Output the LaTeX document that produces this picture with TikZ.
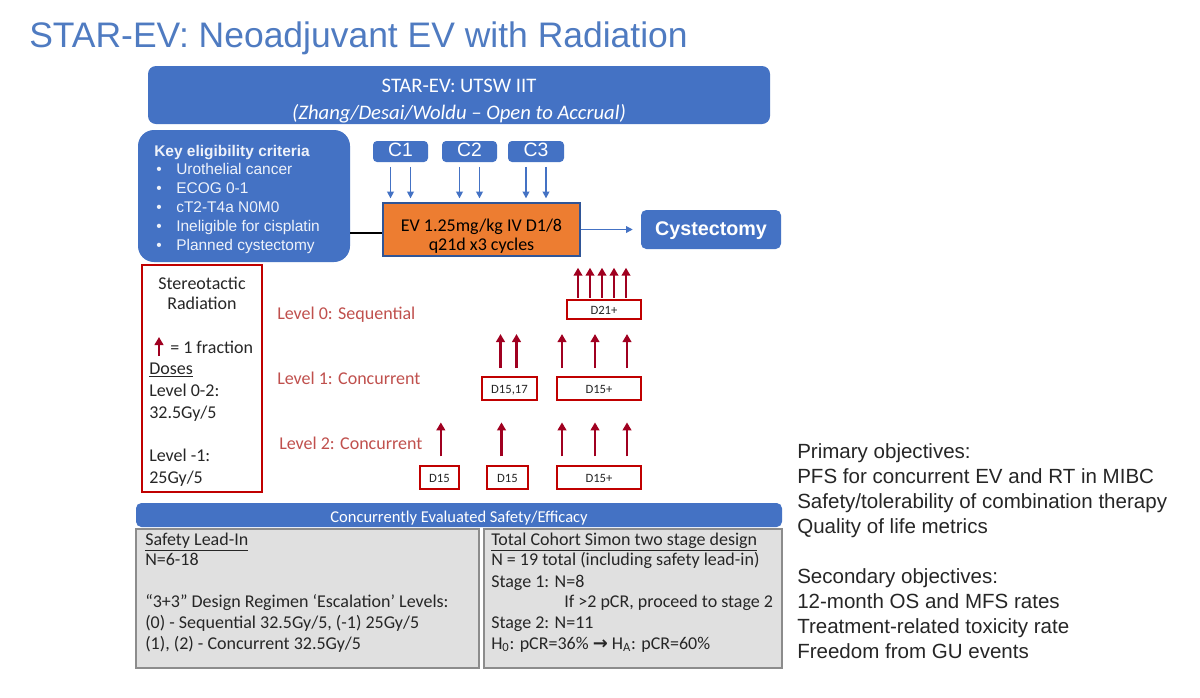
\documentclass[tikz,border=0pt]{standalone}
\usepackage{fontspec}
\setmainfont{Carlito}
\newfontfamily\arialfont{Liberation Sans}
\newfontfamily\arrowfont{DejaVu Sans}
\usepackage{xcolor}
\definecolor{STARblue}{HTML}{4472C4}
\definecolor{STARtitle}{HTML}{4F7BC1}
\definecolor{STARred}{HTML}{C00000}
\definecolor{STARlevel}{HTML}{C0504D}
\definecolor{STARarrow}{HTML}{A00020}
\definecolor{STARorange}{HTML}{ED7D31}
\definecolor{STARedge}{HTML}{2F5597}
\definecolor{STARgray}{HTML}{E0E0E0}
\definecolor{STARframe}{HTML}{8C8C8C}
\definecolor{STARtext}{HTML}{262626}
\definecolor{STARwhite}{HTML}{EEF2FA}
\usepackage{tikz}
\usetikzlibrary{arrows.meta, fit, positioning}

\begin{document}
\begin{tikzpicture}[x=0.75pt, y=-0.75pt]
\tikzset{
  bluebox/.style={inner sep=0pt, fill=STARblue, draw=none, rounded corners=6pt},
  redbox/.style={inner sep=0pt, fill=white, draw=STARred, line width=1.4pt},
  graybox/.style={inner sep=0pt, fill=STARgray, draw=STARframe, line width=0.9pt},
  txt/.style={inner sep=0pt, text height=0.6em, text depth=0.1em},
  body/.style={txt, anchor=west, yshift=-2pt, font=\fontsize{13.5pt}{16pt}\selectfont, text=STARtext},
  elig/.style={txt, anchor=west, yshift=-2pt, font=\arialfont\fontsize{11.6pt}{14pt}\selectfont, text=STARwhite},
  level/.style={txt, anchor=west, yshift=-2pt, font=\fontsize{13.5pt}{16pt}\selectfont, text=STARlevel},
  dtag/.style={txt, yshift=-1pt, font=\fontsize{9.5pt}{11pt}\selectfont, text=STARtext},
  goal/.style={txt, anchor=west, yshift=-1.5pt, font=\arialfont\fontsize{15.4pt}{18pt}\selectfont, text=STARtext},
  cycle arrow/.style={draw=STARblue, line width=1.1pt, -{Triangle[length=5pt, width=5pt]}},
  fraction/.style={draw=STARarrow, line width=1.6pt, -{Triangle[length=6pt, width=6.5pt]}},
}
  \useasboundingbox[fill=white] (0,0) rectangle (1200,697);

  % title
  \node[inner sep=0pt, anchor=base west, text=STARtitle,
        font=\arialfont\fontsize{26.6pt}{30pt}\selectfont] (title) at (29,47)
    {STAR-EV: Neoadjuvant EV with Radiation};

  % study banner
  \node[bluebox, fit={(148,66)(770,124)}] (banner) {};
  \node[inner sep=0pt, align=center, text=white, font=\fontsize{15.5pt}{20pt}\selectfont]
    (bannertext) at ([yshift=-4.5pt]banner.center)
    {STAR-EV: UTSW IIT\\ \itshape (Zhang/Desai/Woldu -- Open to Accrual)};

  % eligibility
  \node[bluebox, rounded corners=12pt, fit={(138,130)(350,262)}] (elig) {};
  \node[elig, font=\arialfont\bfseries\fontsize{11.6pt}{14pt}\selectfont] (eligtitle) at (154,150)
    {Key eligibility criteria};
  \foreach \crit [count=\i] in {Urothelial cancer, ECOG 0-1, cT2-T4a N0M0,
      Ineligible for cisplatin, Planned cystectomy} {
    \node[elig] (dot\i) at (156,149+19*\i) {\textbullet};
    \node[elig] (crit\i) at (176,149+19*\i) {\crit};
  }

  % EV cycles
  \node[inner sep=0pt, fill=STARorange, draw=STARedge, line width=1pt,
        fit={(383,203)(580,256)}] (ev) {};
  \node[inner sep=0pt, align=center, text=black, font=\fontsize{13.5pt}{14.25pt}\selectfont]
    (evtext) at ([yshift=-4.7pt]ev.center) {EV 1.25mg/kg IV D1/8\\q21d x3 cycles};
  \foreach \cyc/\xa/\xb in {C1/373/428, C2/442/497, C3/508/564} {
    \node[bluebox, rounded corners=3pt, fit={(\xa,141)(\xb,162)}] (\cyc) {};
    \node[txt, yshift=-1.2pt, text=white, font=\arialfont\fontsize{14.5pt}{16pt}\selectfont]
      (\cyc text) at (\cyc.center) {\cyc};
    \draw[cycle arrow] ([xshift=-7.5pt, yshift=-3.5pt]\cyc.south)
      -- ([xshift=-7.5pt, yshift=3pt]\cyc.south |- ev.north);
    \draw[cycle arrow] ([xshift=7.5pt, yshift=-3.5pt]\cyc.south)
      -- ([xshift=7.5pt, yshift=3pt]\cyc.south |- ev.north);
  }

  % cystectomy
  \node[bluebox, rounded corners=4pt, fit={(641,210)(781,249)}] (cyst) {};
  \node[txt, text=white, font=\arialfont\bfseries\fontsize{14.8pt}{16pt}\selectfont]
    (cysttext) at ([yshift=-2pt]cyst.center) {Cystectomy};
  \draw[black, line width=1.2pt] ([yshift=-2.5pt]elig.east |- ev.west) -- ([yshift=-2.5pt]ev.west);
  \draw[cycle arrow, line width=0.9pt, shorten >=6pt] (ev.east) -- (ev.east -| cyst.west);

  % radiation legend
  \node[redbox, fit={(142,265)(262,492)}] (rad) {};
  \node[txt, yshift=-2pt, font=\fontsize{13.5pt}{16pt}\selectfont, text=STARtext] (stereo) at (202,283) {Stereotactic};
  \node[txt, yshift=-2pt, font=\fontsize{13.5pt}{16pt}\selectfont, text=STARtext] (radtext) at (202,303) {Radiation};
  \node[body] (frac) at (170,347) {= 1 fraction};
  \coordinate (legtail) at (159,356);
  \draw[fraction] (legtail) -- ++(0,-19);
  \node[body] (doses) at (149,368) {\underline{Doses}};
  \node[body] (dose1) at (149,390) {Level 0-2:};
  \node[body] (dose2) at (149,412) {32.5Gy/5};
  \node[body] (dose3) at (149,455) {Level -1:};
  \node[body] (dose4) at (149,477) {25Gy/5};

  % dose levels
  \node[level] (lvl0) at (277,313) {Level 0: Sequential};
  \node[level] (lvl1) at (277,378) {Level 1: Concurrent};
  \node[level] (lvl2) at (279,443) {Level 2: Concurrent};

  \node[redbox, fit={(567,300)(641,319)}] (d21) {};
  \node[dtag] (d21text) at (d21.center) {D21+};
  \node[redbox, fit={(482,377)(537,400)}] (d1517) {};
  \node[dtag] (d1517text) at (d1517.center) {D15,17};
  \node[redbox, fit={(557,377)(641,400)}] (d15a) {};
  \node[dtag] (d15atext) at (d15a.center) {D15+};
  \node[redbox, fit={(420,466)(459,489)}] (d15b) {};
  \node[dtag] (d15btext) at (d15b.center) {D15};
  \node[redbox, fit={(487,466)(528,489)}] (d15c) {};
  \node[dtag] (d15ctext) at (d15c.center) {D15};
  \node[redbox, fit={(557,466)(641,489)}] (d15d) {};
  \node[dtag] (d15dtext) at (d15d.center) {D15+};

  % fractions
  \foreach \dx in {-26,-14,-2,10,22}
    \draw[fraction] ([xshift=\dx*0.75pt, yshift=1pt]d21.north) -- ++(0,-30);
  \foreach \dx in {-9,7}
    \draw[fraction] ([xshift=\dx*0.75pt, yshift=6pt]d1517.north) -- ++(0,-34);
  \foreach \dx in {-37,-4,28} {
    \draw[fraction] ([xshift=\dx*0.75pt, yshift=6pt]d15a.north) -- ++(0,-34);
    \draw[fraction] ([xshift=\dx*0.75pt, yshift=6.5pt]d15d.north) -- ++(0,-34);
  }
  \draw[fraction] ([xshift=1pt, yshift=6.5pt]d15b.north) -- ++(0,-34);
  \draw[fraction] ([xshift=-4.5pt, yshift=6.5pt]d15c.north) -- ++(0,-34);

  % safety / efficacy
  \node[bluebox, rounded corners=4pt, fit={(136,503)(782,527)}] (evalbar) {};
  \node[txt, text=white, font=\fontsize{12.4pt}{14pt}\selectfont] (evaltext) at ([yshift=-3pt]evalbar.center)
    {Concurrently Evaluated Safety/Efficacy};
  \node[graybox, fit={(136,529)(479,668)}] (lead) {};
  \node[graybox, fit={(484,529)(782,668)}] (cohort) {};
  \node[body] (lead1) at (145,539) {\underline{Safety Lead-In}};
  \node[body] (lead2) at (145,559) {N=6-18};
  \node[body] (lead3) at (145,601) {“3+3” Design Regimen ‘Escalation’ Levels:};
  \node[body] (lead4) at (145,622) {(0) - Sequential 32.5Gy/5, (-1) 25Gy/5};
  \node[body] (lead5) at (145,643) {(1), (2) - Concurrent 32.5Gy/5};
  \node[body] (coh1) at (491,539) {\underline{Total Cohort Simon two stage design}};
  \node[body] (coh2) at (491,559) {N = 19 total (including safety lead-in)};
  \node[body] (coh3) at (491,581) {Stage 1: N=8};
  \node[body] (coh4) at (564,601) {If >2 pCR, proceed to stage 2};
  \node[body] (coh5) at (491,622) {Stage 2: N=11};
  \node[body] (coh6) at (491,643)
    {H\textsubscript{0}: pCR=36\% {\arrowfont\bfseries →} H\textsubscript{A}: pCR=60\%};

  % objectives
  \node[goal] (prim0) at (797,453) {Primary objectives:};
  \node[goal] (prim1) at (797,478) {PFS for concurrent EV and RT in MIBC};
  \node[goal] (prim2) at (797,503) {Safety/tolerability of combination therapy};
  \node[goal] (prim3) at (797,528) {Quality of life metrics};
  \node[goal] (sec0) at (797,578) {Secondary objectives:};
  \node[goal] (sec1) at (797,603) {12-month OS and MFS rates};
  \node[goal] (sec2) at (797,628) {Treatment-related toxicity rate};
  \node[goal] (sec3) at (797,653) {Freedom from GU events};
\end{tikzpicture}
\end{document}
